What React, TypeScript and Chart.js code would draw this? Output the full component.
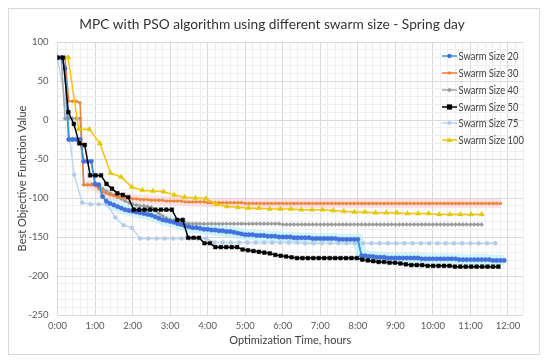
import React, { useEffect, useRef } from 'react';
import { Chart, registerables } from 'chart.js';

Chart.register(...registerables);

const chartTitle = 'MPC with PSO algorithm using different swarm size - Spring day';
const xTitle = 'Optimization Time, hours';
const yTitle = 'Best Objective Function Value';
const seriesLabels = ['Swarm Size 20', 'Swarm Size 30', 'Swarm Size 40', 'Swarm Size 50', 'Swarm Size 75', 'Swarm Size 100'];

// sampling interval (hours) of each run
const stepSS20 = 0.1;
const stepSS30 = 0.1;
const stepSS40 = 0.1;
const stepSS50 = 0.145;
const stepSS75 = 0.22;
const stepSS100 = 0.2825;

const valuesSS20 = [
  80, 80, 66, -25, -25, -25, -25, -53, -53, -53,
  -82, -83, -98, -104, -107, -109, -111, -113, -115, -116,
  -117, -118, -119, -120, -121, -122, -124, -126, -128, -129,
  -130, -131, -133, -134, -136, -137, -138, -138, -139, -140,
  -140, -141, -141, -142, -142, -143, -143, -144, -145, -146,
  -147, -147, -147, -148, -148, -148, -149, -149, -149, -150,
  -150, -150, -150, -151, -151, -151, -151, -151, -152, -152,
  -152, -152, -152, -152, -152, -153, -153, -153, -153, -153,
  -153, -174, -174, -175, -175, -176, -176, -176, -177, -177,
  -177, -177, -177, -177, -177, -177, -177, -178, -178, -178,
  -178, -178, -178, -178, -178, -178, -178, -179, -179, -179,
  -179, -179, -179, -179, -179, -179, -180, -180, -180, -180,
];

const valuesSS30 = [
  80, 80, 80, 24, 24, 24, 22, -83, -83, -83,
  -84, -88, -92, -94, -96, -97, -98, -99, -100, -100,
  -101, -101, -102, -102, -102, -103, -103, -103, -103, -104,
  -104, -104, -104, -104, -105, -105, -105, -105, -105, -105,
  -106, -106, -106, -106, -106, -106, -106, -106, -106, -106,
  -107, -107, -107, -107, -107, -107, -107, -107, -107, -107,
  -107, -107, -107, -107, -107, -107, -107, -107, -107, -107,
  -107, -107, -107, -107, -107, -107, -107, -107, -107, -107,
  -107, -107, -107, -107, -107, -107, -107, -107, -107, -107,
  -107, -107, -107, -107, -107, -107, -107, -107, -107, -107,
  -107, -107, -107, -107, -107, -107, -107, -107, -107, -107,
  -107, -107, -107, -107, -107, -107, -107, -107, -107,
];

const valuesSS40 = [
  80, 80, 2, 2, 2, 2, 2, -83, -83, -83,
  -83, -84, -88, -91, -94, -96, -99, -101, -104, -106,
  -108, -109, -110, -110, -111, -112, -116, -120, -123, -126,
  -128, -129, -130, -131, -132, -133, -133, -133, -133, -133,
  -133, -133, -133, -133, -133, -133, -133, -133, -133, -133,
  -133, -133, -133, -133, -133, -133, -133, -133, -133, -133,
  -134, -134, -134, -134, -134, -134, -134, -134, -134, -134,
  -134, -134, -134, -134, -134, -134, -134, -134, -134, -134,
  -134, -134, -134, -134, -134, -134, -134, -134, -134, -134,
  -134, -134, -134, -134, -134, -134, -134, -134, -134, -134,
  -134, -134, -134, -134, -134, -134, -134, -134, -134, -134,
  -134, -134, -134, -134,
];

const valuesSS50 = [
  80, 80, 10, -5, -30, -32, -71, -71, -71, -82,
  -88, -94, -96, -99, -115, -115, -115, -115, -115, -115,
  -115, -115, -128, -128, -151, -151, -151, -158, -158, -163,
  -163, -163, -163, -163, -166, -167, -168, -169, -170, -171,
  -173, -174, -175, -176, -177, -177, -177, -177, -177, -177,
  -177, -177, -177, -177, -177, -177, -179, -180, -181, -182,
  -182, -183, -183, -184, -185, -186, -186, -186, -187, -187,
  -187, -187, -187, -188, -188, -188, -188, -188, -188, -188,
  -188, -188,
];

const valuesSS75 = [
  80, 20, -70, -106, -108, -108, -108, -125, -135, -138,
  -152, -152, -152, -152, -152, -152, -152, -152, -152, -157,
  -157, -157, -157, -157, -157, -157, -157, -157, -157, -157,
  -158, -158, -158, -158, -158, -158, -158, -158, -158, -158,
  -158, -158, -158, -158, -158, -158, -158, -158, -158, -158,
  -158, -158, -158, -158,
];

const valuesSS100 = [
  80, 80, -12, -12, -30, -68, -73, -86, -90, -91,
  -92, -96, -99, -100, -101, -108, -111, -112, -113, -113,
  -114, -114, -114, -115, -115, -115, -116, -117, -118, -118,
  -119, -119, -119, -120, -120, -120, -121, -121, -121, -121,
  -121,
];

const xTickLabels = ['0:00', '1:00', '2:00', '3:00', '4:00', '5:00', '6:00', '7:00', '8:00', '9:00', '10:00', '11:00', '12:00'];
const yTickLabels = [100, 50, 0, -50, -100, -150, -200, -250];

const FONT = 'Lato, "Open Sans", sans-serif';

function toPoints(values: number[], step: number) {
  return values.map((v, i) => ({ x: Math.round(i * step * 10000) / 10000, y: v }));
}

type Style = {
  color: string;
  pointColor: string;
  shape: string;
  radius: number;
  width: number;
};

const styles: Style[] = [
  { color: '#3A9AD9', pointColor: '#4470DC', shape: 'circle', radius: 2.2, width: 2 },
  { color: '#ED7D31', pointColor: '#E8893A', shape: 'circle', radius: 1.4, width: 1.5 },
  { color: '#A5A5A5', pointColor: '#9A9A9A', shape: 'rectRot', radius: 2, width: 1.5 },
  { color: '#000000', pointColor: '#000000', shape: 'rect', radius: 2.6, width: 1.5 },
  { color: '#BDD7EE', pointColor: '#B4CBEA', shape: 'circle', radius: 2, width: 1.5 },
  { color: '#FFC000', pointColor: '#DCCB00', shape: 'triangle', radius: 3, width: 1.5 },
];

function drawShape(ctx: CanvasRenderingContext2D, shape: string, x: number, y: number, r: number) {
  ctx.beginPath();
  if (shape === 'circle') {
    ctx.arc(x, y, r, 0, Math.PI * 2);
  } else if (shape === 'rect') {
    ctx.rect(x - r, y - r, r * 2, r * 2);
  } else if (shape === 'rectRot') {
    ctx.moveTo(x, y - r * 1.2);
    ctx.lineTo(x + r * 1.2, y);
    ctx.lineTo(x, y + r * 1.2);
    ctx.lineTo(x - r * 1.2, y);
    ctx.closePath();
  } else if (shape === 'triangle') {
    ctx.moveTo(x, y - r);
    ctx.lineTo(x + r, y + r * 0.7);
    ctx.lineTo(x - r, y + r * 0.7);
    ctx.closePath();
  }
  ctx.fill();
}

const overlayPlugin = {
  id: 'overlay',
  afterDraw(chart: any) {
    const ctx: CanvasRenderingContext2D = chart.ctx;
    ctx.save();
    // title
    ctx.fillStyle = '#333333';
    ctx.font = `14px ${FONT}`;
    ctx.textAlign = 'center';
    ctx.textBaseline = 'middle';
    ctx.save();
    ctx.translate(chart.width / 2 - 2, 15);
    ctx.scale(0.98, 1);
    ctx.fillText(chartTitle, 0, 0);
    ctx.restore();
    // legend
    const lx0 = 433;
    const lx1 = 448;
    const rows = [47, 64, 81, 98, 114, 131];
    ctx.font = `11px ${FONT}`;
    ctx.textAlign = 'left';
    seriesLabels.forEach((label, i) => {
      const s = styles[i];
      const y = rows[i];
      ctx.strokeStyle = s.color;
      ctx.lineWidth = 1.5;
      ctx.beginPath();
      ctx.moveTo(lx0, y);
      ctx.lineTo(lx1, y);
      ctx.stroke();
      ctx.fillStyle = s.pointColor;
      drawShape(ctx, s.shape, (lx0 + lx1) / 2, y, Math.max(1.8, s.radius));
      ctx.fillStyle = '#404040';
      ctx.save();
      ctx.translate(lx1 + 1.5, y + 0.5);
      ctx.scale(0.85, 1);
      ctx.fillText(label, 0, 0);
      ctx.restore();
    });
    ctx.restore();
  },
};

export default function App() {
  const ref = useRef<HTMLCanvasElement | null>(null);

  useEffect(() => {
    if (!ref.current) return;
    const valueSets = [valuesSS20, valuesSS30, valuesSS40, valuesSS50, valuesSS75, valuesSS100];
    const steps = [stepSS20, stepSS30, stepSS40, stepSS50, stepSS75, stepSS100];
    const drawOrder = [1, 3, 4, 0, 5, 2];

    const main = valueSets.map((vals, i) => {
      const s = styles[i];
      return {
        label: seriesLabels[i],
        data: toPoints(vals, steps[i]),
        borderColor: s.color,
        backgroundColor: s.pointColor,
        borderWidth: s.width,
        pointStyle: s.shape,
        pointRadius: s.radius,
        pointBackgroundColor: s.pointColor,
        pointBorderColor: s.pointColor,
        pointBorderWidth: 0.5,
        tension: 0,
        order: drawOrder[i],
      };
    });

    const glowSS30 = {
      label: 'glow30',
      data: toPoints(valuesSS30, stepSS30).slice(8),
      borderColor: 'rgba(255, 190, 205, 0.45)',
      borderWidth: 9,
      pointRadius: 0,
      order: 10,
    };
    const glowSS20 = {
      label: 'glow20',
      data: toPoints(valuesSS20, stepSS20).slice(13),
      borderColor: 'rgba(170, 238, 250, 0.55)',
      borderWidth: 11,
      pointRadius: 0,
      order: 10,
    };

    const majorGrid = '#D9D9D9';
    const minorGrid = '#EEEEEE';

    const chart = new Chart(ref.current, {
      type: 'line',
      data: { datasets: [...main, glowSS30, glowSS20] as any },
      plugins: [overlayPlugin],
      options: {
        animation: false,
        responsive: false,
        layout: { padding: { left: 0, right: 16, top: 33, bottom: 0 } },
        plugins: {
          legend: { display: false },
          title: { display: false },
          tooltip: { enabled: false },
        },
        scales: {
          x: {
            type: 'linear',
            min: 0,
            max: 12.4,
            afterFit: (s: any) => { s.height = 39; },
            border: { display: false },
            grid: {
              drawTicks: false,
              color: (c: any) => (Math.abs(c.tick.value - Math.round(c.tick.value)) < 1e-6 ? majorGrid : minorGrid),
            },
            ticks: {
              stepSize: 0.2,
              autoSkip: false,
              maxRotation: 0,
              minRotation: 0,
              padding: 5,
              color: '#595959',
              font: { family: FONT, size: 9.5 },
              callback: (v: any) => {
                const n = Number(v);
                if (Math.abs(n - Math.round(n)) < 1e-6 && Math.round(n) < xTickLabels.length) return xTickLabels[Math.round(n)];
                return '';
              },
            },
            title: {
              display: true,
              text: xTitle,
              color: '#404040',
              font: { family: FONT, size: 11 },
              padding: { top: 0, bottom: 7 },
            },
          },
          y: {
            type: 'linear',
            min: -250,
            max: 100,
            afterFit: (s: any) => { s.width = 48.5; },
            border: { display: false },
            grid: {
              drawTicks: false,
              color: (c: any) => (Math.round(c.tick.value) % 50 === 0 ? majorGrid : minorGrid),
            },
            ticks: {
              stepSize: 10,
              autoSkip: false,
              padding: 9,
              color: '#595959',
              font: { family: FONT, size: 9.5 },
              callback: (v: any) => {
                const n = Math.round(Number(v));
                return yTickLabels.includes(n) ? String(n) : '';
              },
            },
            title: {
              display: true,
              text: yTitle,
              color: '#404040',
              font: { family: FONT, size: 11 },
              padding: { top: 7, bottom: 0 },
            },
          },
        },
      } as any,
    });
    return () => chart.destroy();
  }, []);

  return (
    <div style={{ width: 530, height: 345, border: '1px solid #D9D9D9', background: '#fff' }}>
      <canvas ref={ref} width={530} height={345} style={{ display: 'block' }} />
    </div>
  );
}
